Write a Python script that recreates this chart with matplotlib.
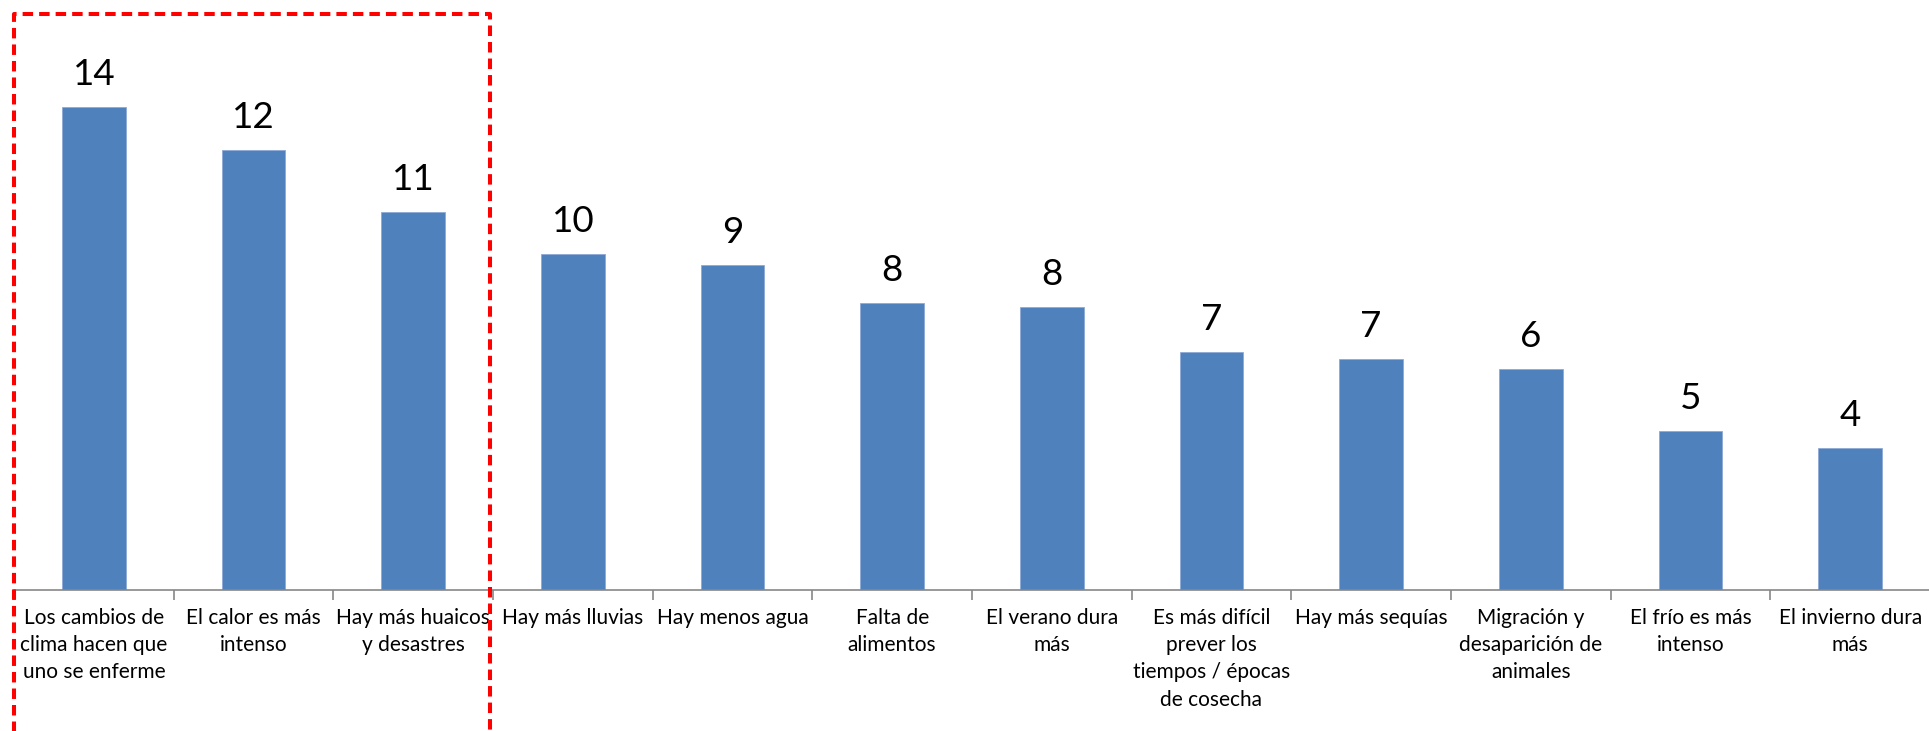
import matplotlib
matplotlib.use("Agg")
import matplotlib.pyplot as plt
from matplotlib.lines import Line2D

categories = [
    "Los cambios de\nclima hacen que\nuno se enferme",
    "El calor es más\nintenso",
    "Hay más huaicos\ny desastres",
    "Hay más lluvias",
    "Hay menos agua",
    "Falta de\nalimentos",
    "El verano dura\nmás",
    "Es más difícil\nprever los\ntiempos / épocas\nde cosecha",
    "Hay más sequías",
    "Migración y\ndesaparición de\nanimales",
    "El frío es más\nintenso",
    "El invierno dura\nmás",
]
values = [14.0, 12.75, 10.96, 9.74, 9.42, 8.32, 8.20, 6.90, 6.70, 6.41, 4.61, 4.12]
labels = ["14", "12", "11", "10", "9", "8", "8", "7", "7", "6", "5", "4"]

W, H = 1929, 731
fig = plt.figure(figsize=(W / 100, H / 100), dpi=100)
plt.rcParams['font.family'] = ['Lato', 'DejaVu Sans']

ax = fig.add_axes([14 / W, (H - 590) / H, 1916 / W, 590 / H])
x = list(range(len(categories)))
ax.bar(x, values, width=0.4, color="#4F81BD", edgecolor="#8EAAD6", linewidth=0.6, zorder=2)
ax.set_xlim(-0.5, len(categories) - 0.5)
ax.set_ylim(0, 590 / 34.5)

for xi, v, lab in zip(x, values, labels):
    ax.annotate(lab, (xi, v), xytext=(0, 16), textcoords="offset points",
                ha="center", va="baseline", fontsize=26.5, color="black")

for s in ["left", "right", "top"]:
    ax.spines[s].set_visible(False)
ax.spines["bottom"].set_color("#878787")
ax.spines["bottom"].set_linewidth(1.2)
ax.set_yticks([])

ax.set_xticks(x)
ax.set_xticklabels(categories, fontsize=15, linespacing=1.45)
ax.tick_params(axis="x", which="major", length=0, pad=13)
ax.set_xticks([i - 0.5 for i in range(len(categories) + 1)], minor=True)
ax.tick_params(axis="x", which="minor", length=7, width=1.2, color="#878787", direction="out")

# red dashed highlight box (figure pixel coords)
def fx(px):
    return px / W
def fy(py):
    return 1 - py / H
pts_x = [14, 14, 490, 490]
pts_y = [740, 14, 14, 740]
line = Line2D([fx(p) for p in pts_x], [fy(p) for p in pts_y], transform=fig.transFigure,
              color="#FF0000", linewidth=2.9, linestyle=(0, (2.6, 1.5)), zorder=5)
fig.add_artist(line)

fig.savefig("out.png", dpi=100)
